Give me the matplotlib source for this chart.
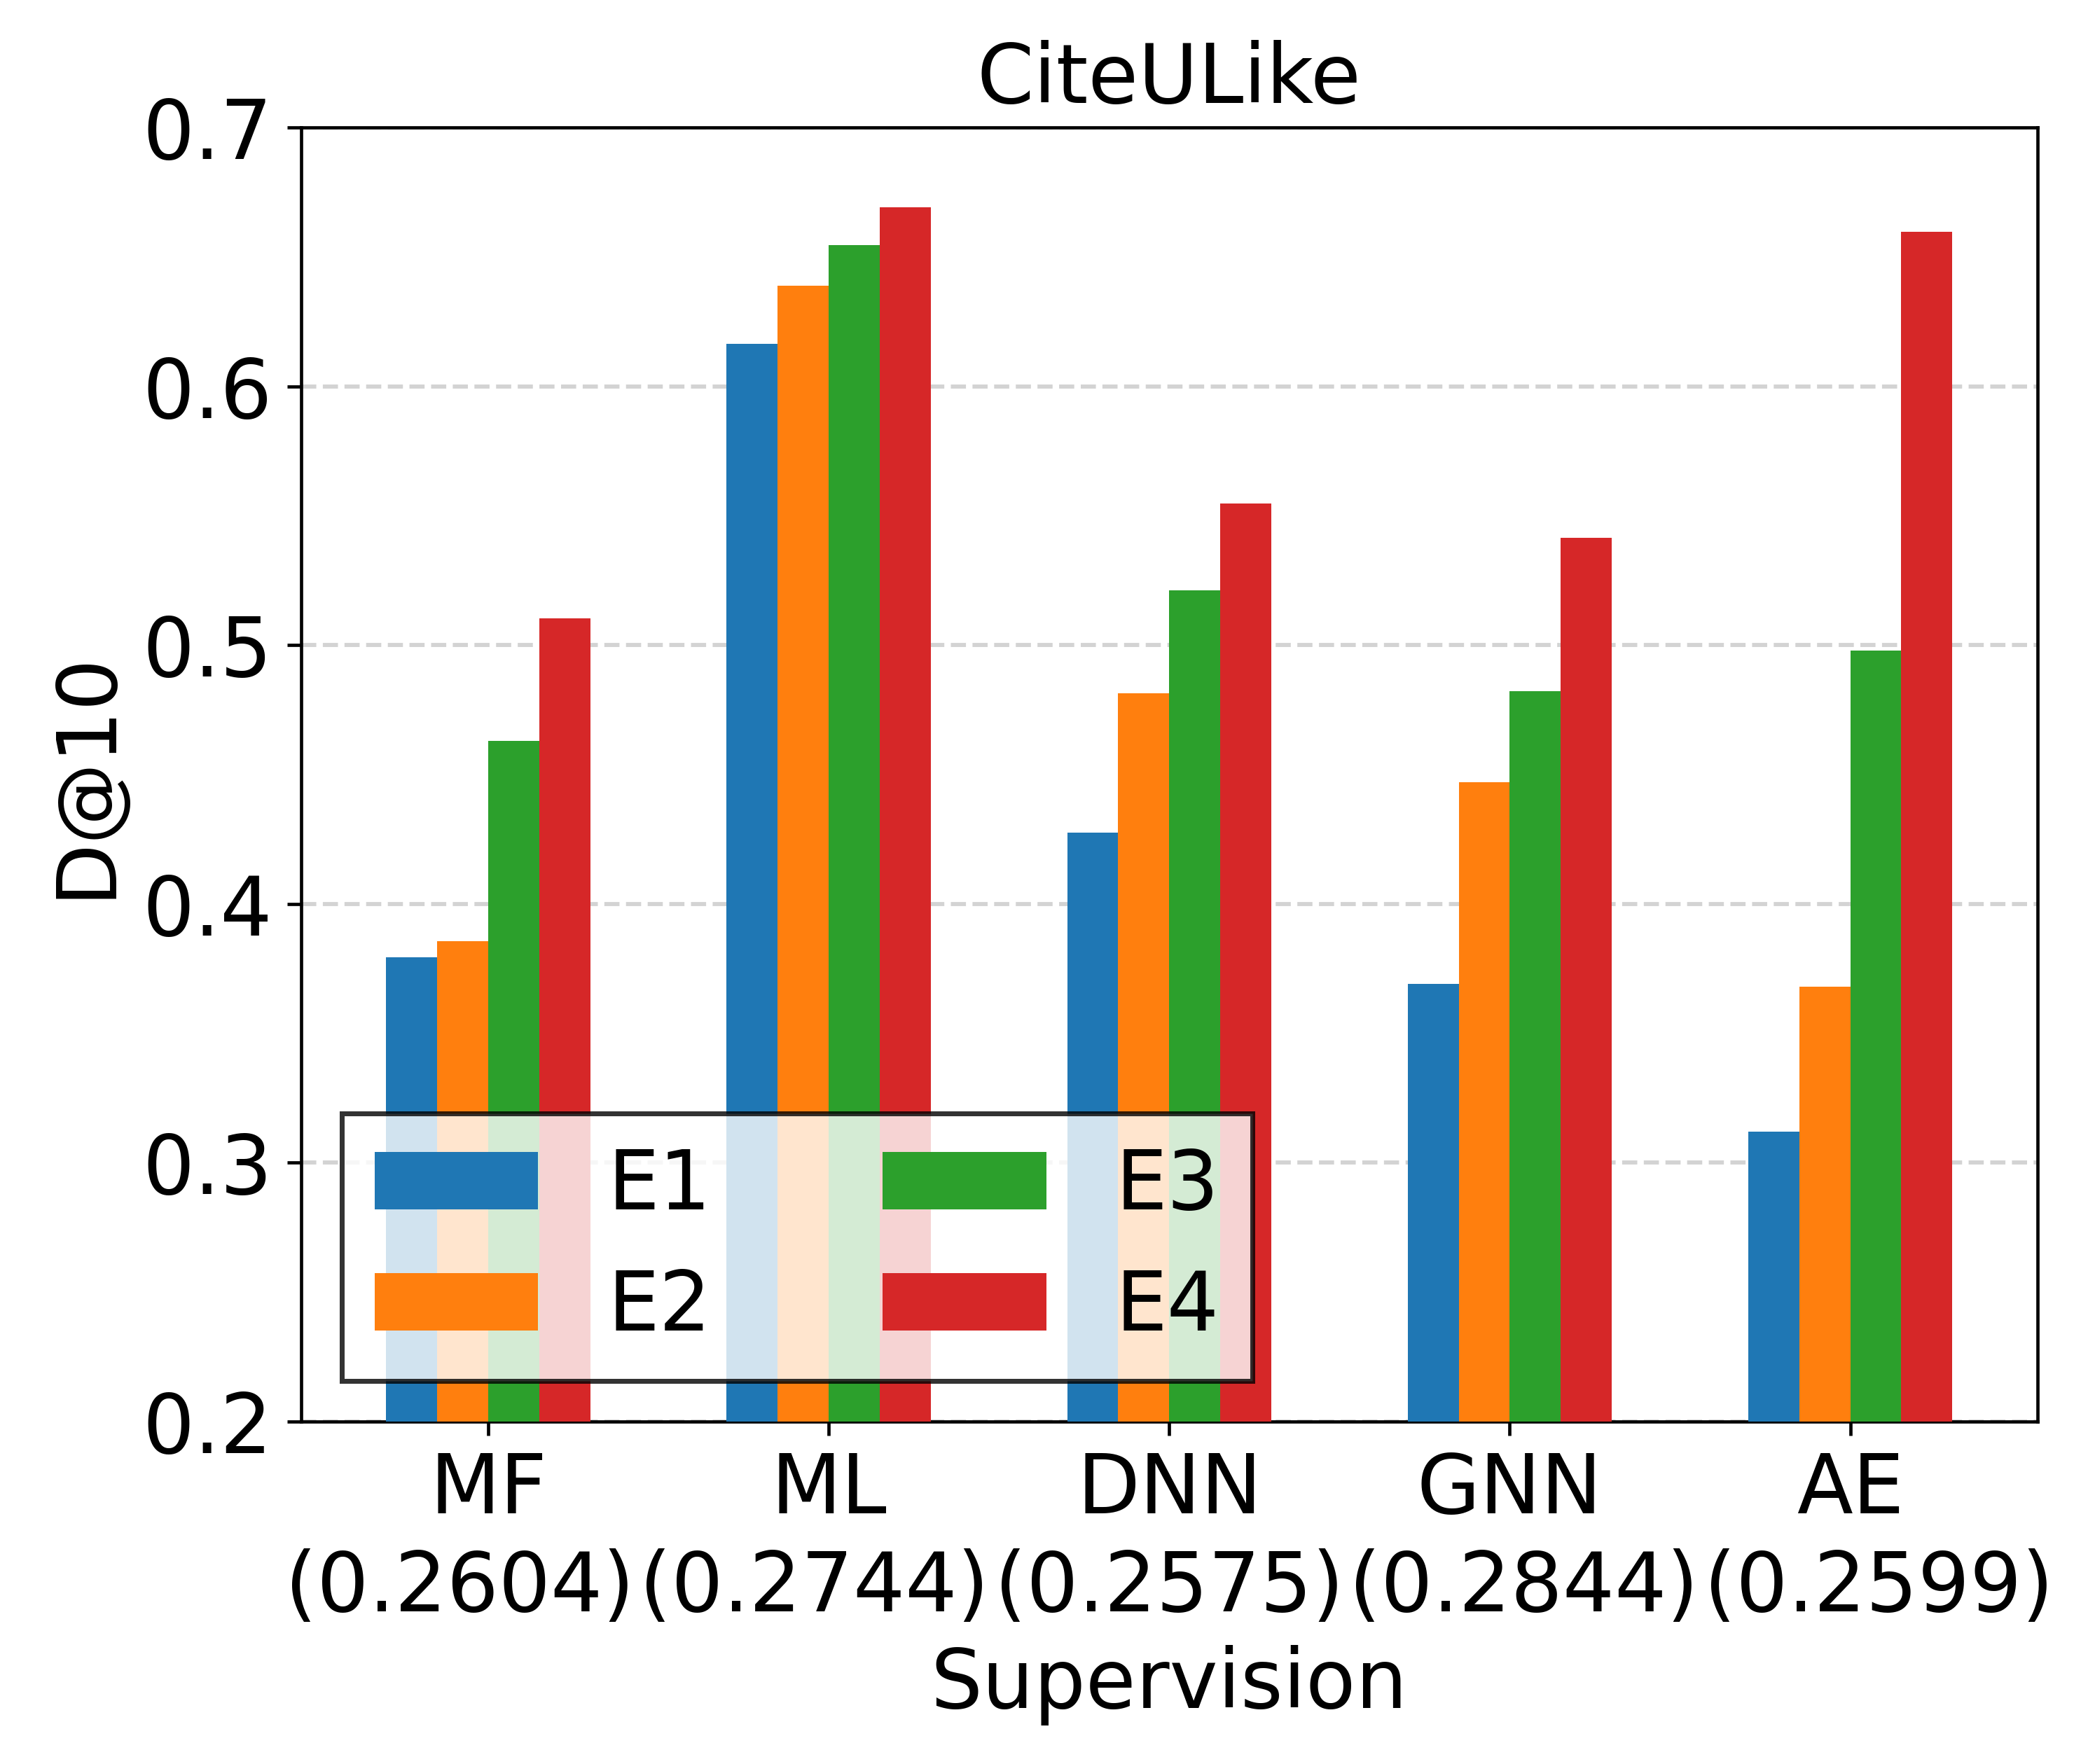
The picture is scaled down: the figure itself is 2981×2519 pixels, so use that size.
import numpy as np
from matplotlib import pyplot as plt

methods = ["MF", "ML", "DNN", "GNN", "AE"]
base_scores = ["0.2604", "0.2744", "0.2575", "0.2844", "0.2599"]
series_names = ["E1", "E2", "E3", "E4"]

e1 = [0.3795, 0.6163, 0.4277, 0.3690, 0.3119]
e2 = [0.3857, 0.6390, 0.4815, 0.4470, 0.3680]
e3 = [0.4631, 0.6547, 0.5212, 0.4822, 0.4979]
e4 = [0.5104, 0.6692, 0.5547, 0.5415, 0.6596]

colors = ["#1f77b4", "#ff7f0e", "#2ca02c", "#d62728"]

if __name__ == '__main__':
    plt.rcParams['font.size'] = 20
    fig = plt.figure(figsize=(2981 / 420, 2519 / 420), dpi=420)
    ax = fig.add_axes([0.1442, 0.1941, 0.9758 - 0.1442, 0.9277 - 0.1941])

    x = np.arange(len(methods))
    width = 0.15
    for i, vals in enumerate([e1, e2, e3, e4]):
        ax.bar(x + (i - 1.5) * width, vals, width, color=colors[i],
               label=series_names[i], zorder=3)

    ax.set_ylim(0.2, 0.7)
    ax.set_xlim(-0.55, 4.55)
    ax.set_yticks([0.2, 0.3, 0.4, 0.5, 0.6, 0.7])
    ax.set_yticklabels(["0.2", "0.3", "0.4", "0.5", "0.6", "0.7"])
    ax.set_xticks(x)
    ax.set_xticklabels(methods)
    # score line under the names, spread a little wider than the ticks
    ax.xaxis.remove_overlapping_locs = False
    mid = (len(methods) - 1) / 2
    score_pos = mid + (x - mid) * 1.042
    ax.set_xticks(score_pos, ["(" + s + ")" for s in base_scores], minor=True)
    ax.tick_params(axis='x', which='minor', length=0, pad=31)
    ax.yaxis.grid(True, linestyle='--', color='lightgray', linewidth=1.0, zorder=0)
    ax.set_axisbelow(True)

    ax.set_title("CiteULike", fontsize=20)
    ax.set_xlabel("Supervision")
    ax.set_ylabel("D@10")

    leg = ax.legend(ncol=2, loc='lower left', fancybox=False, edgecolor='black',
                    columnspacing=2.1, handletextpad=0.85)
    leg.get_frame().set_linewidth(1.2)

    fig.savefig("out.png", dpi=420)
